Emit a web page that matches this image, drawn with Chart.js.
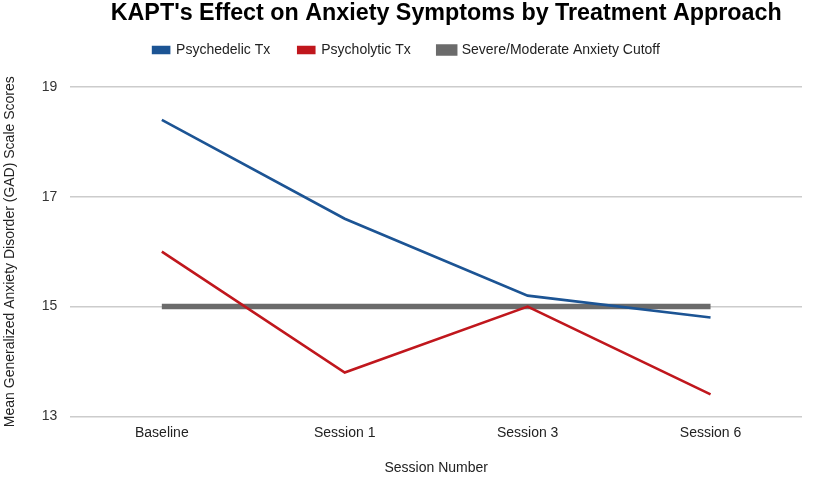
<!DOCTYPE html>
<html>
<head>
<meta charset="utf-8">
<script src="https://cdn.jsdelivr.net/npm/chart.js@4"></script>
<style>
  html, body { margin: 0; padding: 0; background: #fff; }
  #wrap { width: 813px; height: 477px; }
</style>
</head>
<body>
<div id="wrap"><canvas id="anxietyChart"></canvas></div>
<script>
// Chart data
const sessions = ["Baseline", "Session 1", "Session 3", "Session 6"];
const psychedelicScores = [18.4, 16.6, 15.2, 14.8];
const psycholyticScores = [16.0, 13.8, 15.0, 13.4];
const anxietyCutoff = [15, 15, 15, 15];
const yTicks = [13, 15, 17, 19];
const chartTitle = "KAPT's Effect on Anxiety Symptoms by Treatment Approach";

Chart.defaults.font.family = "'Liberation Sans', Arial, sans-serif";
Chart.defaults.color = "#333";

// Title is drawn over the chart area centre, the legend sits just under it
const titlePlugin = {
  id: "centredTitle",
  afterDraw(chart) {
    const c = chart.ctx;
    const area = chart.chartArea;
    c.save();
    c.font = "bold 23.3px 'Liberation Sans', Arial, sans-serif";
    c.fillStyle = "#000";
    c.textAlign = "center";
    c.textBaseline = "middle";
    c.fillText(chartTitle, (area.left + area.right) / 2 + 10, 14);
    c.restore();
  }
};

// Adds room between the legend and the plot
const legendSpacer = {
  id: "legendSpacer",
  beforeInit(chart) {
    const fit = chart.legend.fit;
    chart.legend.fit = function () {
      fit.bind(chart.legend)();
      this.height += 20;
    };
  }
};

const ctx = document.getElementById("anxietyChart").getContext("2d");

new Chart(ctx, {
  type: "line",
  data: {
    labels: sessions,
    datasets: [
      {
        label: "Psychedelic Tx",
        data: psychedelicScores,
        borderColor: "#1c5494",
        backgroundColor: "#1c5494",
        borderWidth: 2.6,
        pointRadius: 0
      },
      {
        label: "Psycholytic Tx",
        data: psycholyticScores,
        borderColor: "#c0171d",
        backgroundColor: "#c0171d",
        borderWidth: 2.6,
        pointRadius: 0
      },
      {
        label: "Severe/Moderate Anxiety Cutoff",
        data: anxietyCutoff,
        borderColor: "#6b6b6b",
        backgroundColor: "#6b6b6b",
        borderWidth: 5.5,
        pointRadius: 0
      }
    ]
  },
  options: {
    responsive: true,
    maintainAspectRatio: false,
    animation: false,
    layout: { padding: { left: 11, right: 11, top: 15, bottom: 0 } },
    plugins: {
      title: { display: false },
      legend: {
        position: "top",
        labels: {
          boxWidth: 16,
          boxHeight: 6,
          padding: 28,
          color: "#222",
          font: { size: 14 }
        }
      },
      tooltip: { enabled: false }
    },
    scales: {
      x: {
        offset: true,
        grid: { display: false, drawTicks: false },
        border: { display: false },
        ticks: { font: { size: 14 }, color: "#222", padding: 8 },
        title: {
          display: true,
          text: "Session Number",
          color: "#222",
          font: { size: 14 },
          padding: { top: 11, bottom: 0 }
        }
      },
      y: {
        min: 13,
        max: 19,
        afterBuildTicks: axis => {
          axis.ticks = yTicks.map(v => ({ value: v }));
        },
        grid: { color: "#cccccc", lineWidth: 1.5, drawTicks: false },
        border: { display: false },
        ticks: { font: { size: 14 }, color: "#333", padding: 13 },
        title: {
          display: true,
          text: "Mean Generalized Anxiety Disorder (GAD) Scale Scores",
          color: "#222",
          font: { size: 14 },
          padding: { top: -9, bottom: 10 }
        }
      }
    }
  },
  plugins: [titlePlugin, legendSpacer]
});
</script>
</body>
</html>
